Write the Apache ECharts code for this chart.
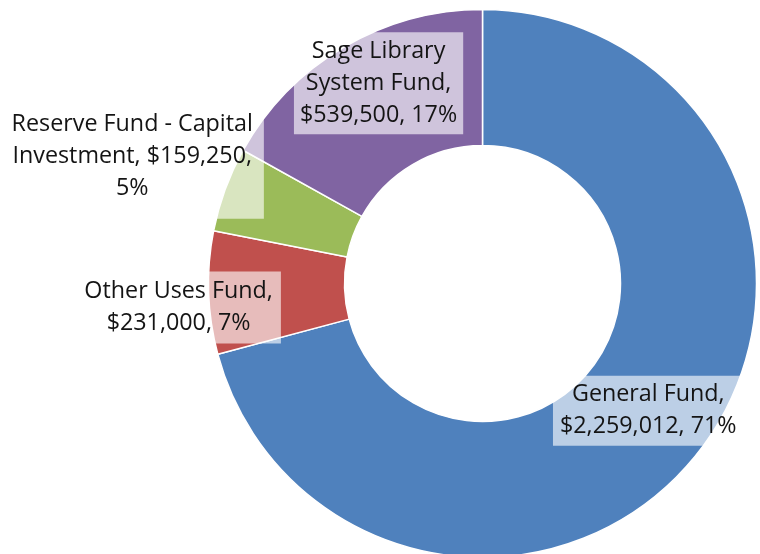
<!DOCTYPE html>
<html>
<head>
<meta charset="utf-8">
<script src="https://cdn.jsdelivr.net/npm/echarts@6/dist/echarts.min.js"></script>
<style>
html,body{margin:0;padding:0;background:#fff;}
#chart{width:760px;height:554px;}
</style>
</head>
<body>
<div id="chart"></div>
<script>
// Data
var categories = ['General Fund', 'Other Uses Fund', 'Reserve Fund - Capital Investment', 'Sage Library System Fund'];
var values = [2259012, 231000, 159250, 539500];
var colors = ['#4F81BD', '#C0504D', '#9BBB59', '#8064A2'];
// label text line arrangement (as in the reference)
var labelNameText = ['General Fund,', 'Other Uses Fund,', 'Reserve Fund - Capital\nInvestment,', 'Sage Library\nSystem Fund,'];
var sepAfterName = ['\n', '\n', ' ', '\n'];
var sepAfterValue = [' ', ' ', '\n', ' '];
var labelOffsets = [[0, 0], [-95, 17], [-154, -55], [2, -20]];
var labelPadding = [[3, 7, 3, 7], [4, 8, 4, 8], [14, 11, 14, 11], [3, 6, 3, 6]];

function fmtMoney(v) {
  return '$' + String(v).replace(/\B(?=(\d{3})+(?!\d))/g, ',');
}

var chart = echarts.init(document.getElementById('chart'), null, {renderer: 'canvas'});
var data = categories.map(function (c, i) {
  return {
    name: c,
    value: values[i],
    itemStyle: {color: colors[i]},
    label: {offset: labelOffsets[i], padding: labelPadding[i]}
  };
});

chart.setOption({
  animation: false,
  backgroundColor: '#ffffff',
  series: [{
    type: 'pie',
    center: [482.5, 283.5],
    radius: [138, 274],
    startAngle: 90,
    clockwise: true,
    percentPrecision: 0,
    avoidLabelOverlap: false,
    itemStyle: {borderColor: '#ffffff', borderWidth: 1.5},
    label: {
      show: true,
      position: 'inside',
      formatter: function (p) {
        var i = p.dataIndex;
        return labelNameText[i] + sepAfterName[i] + fmtMoney(p.value) + ',' + sepAfterValue[i] + p.percent + '%';
      },
      fontFamily: 'Open Sans',
      fontSize: 23.3,
      lineHeight: 32,
      color: '#141414',
      align: 'center',
      backgroundColor: 'rgba(255,255,255,0.62)',
      overflow: 'none'
    },
    labelLine: {show: false},
    emphasis: {disabled: true},
    data: data
  }]
});
</script>
</body>
</html>
